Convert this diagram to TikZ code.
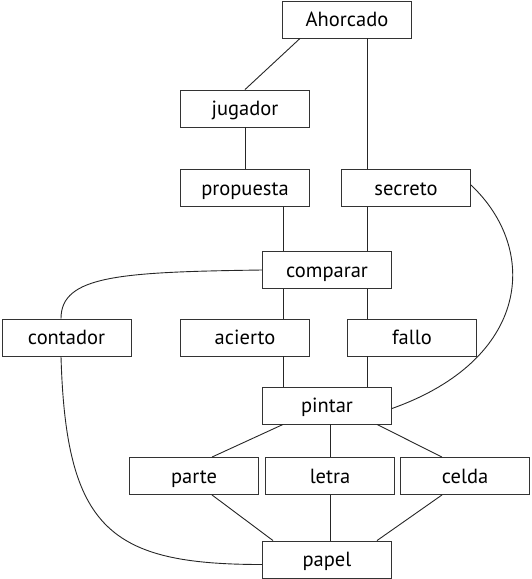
\documentclass[tikz,border=0pt]{standalone}
\usepackage{fontspec}
\setmainfont{PT Sans}
\begin{document}
\begin{tikzpicture}[x=1pt,y=-1pt,
  box/.style={draw=black!80,line width=0.9pt,minimum width=129pt,minimum height=37pt,inner sep=0pt,
    font=\fontsize{20.5}{22}\selectfont,text height=14.4pt,text depth=0pt},
  link/.style={draw=black!85,line width=0.9pt}]
\useasboundingbox (0,0) rectangle (531,579);
\node[box] (Ahorcado) at (347,19.5) {Ahorcado};
\node[box] (jugador) at (245,108.5) {jugador};
\node[box] (propuesta) at (245,188) {propuesta};
\node[box] (secreto) at (406,188) {secreto};
\node[box] (comparar) at (327,270) {comparar};
\node[box] (contador) at (66.5,337.5) {contador};
\node[box] (acierto) at (245,337.5) {acierto};
\node[box] (fallo) at (412,337.5) {fallo};
\node[box] (pintar) at (327,405.5) {pintar};
\node[box] (parte) at (194,476) {parte};
\node[box] (letra) at (330,476) {letra};
\node[box] (celda) at (465,476) {celda};
\node[box] (papel) at (327,559.5) {papel};

\path[link] ([xshift=-47pt]Ahorcado.south) -- (jugador.north);
\path[link] ([xshift=20pt]Ahorcado.south) -- ([xshift=-39pt]secreto.north);
\path[link] (jugador.south) -- (propuesta.north);
\path[link] ([xshift=38pt]propuesta.south) -- ([xshift=-44pt]comparar.north);
\path[link] ([xshift=-39pt]secreto.south) -- ([xshift=40pt]comparar.north);
\path[link] ([xshift=-44pt]comparar.south) -- ([xshift=38pt]acierto.north);
\path[link] ([xshift=40pt]comparar.south) -- ([xshift=-45pt]fallo.north);
\path[link] ([xshift=38pt]acierto.south) -- ([xshift=-44pt]pintar.north);
\path[link] ([xshift=-45pt]fallo.south) -- ([xshift=40pt]pintar.north);
\path[link] ([xshift=-44pt]pintar.south) -- ([xshift=18pt]parte.north);
\path[link] ([xshift=3pt]pintar.south) -- (letra.north);
\path[link] ([xshift=50pt]pintar.south) -- ([xshift=-23pt]celda.north);
\path[link] ([xshift=18pt]parte.south) -- ([xshift=-54pt]papel.north);
\path[link] (letra.south) -- ([xshift=3pt]papel.north);
\path[link] ([xshift=-23pt]celda.south) -- ([xshift=50pt]papel.north);
\path[link] (comparar.west) .. controls +(-142,2) and +(0,-43) .. ([xshift=-5.5pt]contador.north);
\path[link] ([xshift=-5.5pt]contador.south) .. controls +(5,173) and +(-152,0) .. ([yshift=-5pt]papel.west);
\path[link] ([yshift=3pt]secreto.east) .. controls +(69,65) and +(138,-49) .. ([yshift=-3pt]pintar.east);
\end{tikzpicture}
\end{document}
